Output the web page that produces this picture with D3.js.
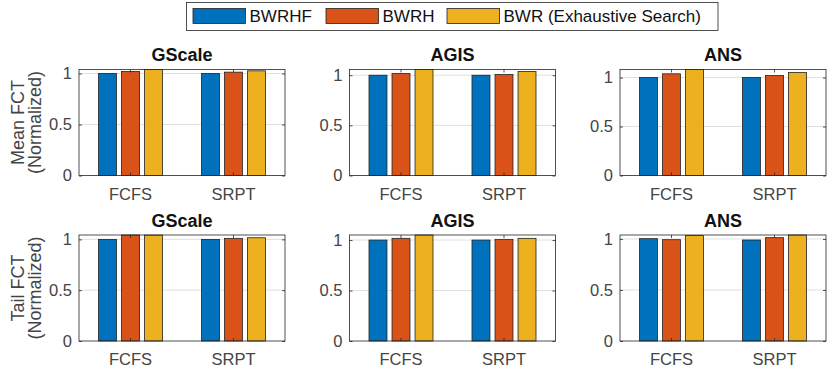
<!DOCTYPE html>
<html>
<head>
<meta charset="utf-8">
<script src="https://cdn.jsdelivr.net/npm/d3@7"></script>
<style>
  body { margin: 0; background: #fff; }
  svg { font-family: "Liberation Sans", Arial, Helvetica, sans-serif; }
</style>
</head>
<body>
<div id="chart"></div>
<script>
const categories = ["FCFS", "SRPT"];
const series = ["BWRHF", "BWRH", "BWR (Exhaustive Search)"];
const networks = ["GScale", "AGIS", "ANS"];
const metrics = ["Mean FCT", "Tail FCT"];
const yTicks = [0, 0.5, 1];
const colors = ["#0072BD", "#D95319", "#EDB120"];

// one row per category (FCFS, SRPT), one column per series
const meanGScale = [[1.000, 1.020, 1.039], [1.000, 1.013, 1.026]];
const meanAGIS   = [[1.000, 1.017, 1.057], [1.000, 1.007, 1.037]];
const meanANS    = [[1.000, 1.038, 1.082], [1.000, 1.020, 1.051]];
const tailGScale = [[1.000, 1.043, 1.042], [1.000, 1.010, 1.016]];
const tailAGIS   = [[1.000, 1.017, 1.050], [1.000, 1.007, 1.017]];
const tailANS    = [[1.003, 0.993, 1.033], [0.990, 1.013, 1.039]];

const panelValues = [
    [meanGScale, meanAGIS, meanANS],
    [tailGScale, tailAGIS, tailANS]
];

function drawChart(container) {
    const width = 830;
    const height = 369;
    const colLeft = [79, 349.5, 620];
    const rowTop = [69.5, 235];
    const panelW = 206;
    const panelH = 106;
    const ink = "#262626";
    const label = "#444";

    const svg = d3.select(container).append("svg")
        .attr("width", width)
        .attr("height", height)
        .style("background", "#fff");

    const x0 = d3.scaleBand().domain(categories).range([0, panelW]);
    const x1 = d3.scaleBand().domain(series).range([-32, 32]).paddingInner(0.22);

    metrics.forEach((metric, r) => {
        networks.forEach((net, c) => {
            const vals = panelValues[r][c];
            const y = d3.scaleLinear()
                .domain([0, d3.max(vals.flat())])
                .range([panelH, 0]);

            const g = svg.append("g")
                .attr("transform", `translate(${colLeft[c]},${rowTop[r]})`);

            g.append("rect")
                .attr("width", panelW)
                .attr("height", panelH)
                .attr("fill", "#fff");

            // grid
            g.append("g")
                .selectAll("line")
                .data(yTicks.filter(t => t > 0))
                .join("line")
                .attr("x1", 0)
                .attr("x2", panelW)
                .attr("y1", d => y(d))
                .attr("y2", d => y(d))
                .attr("stroke", "#e0e0e0")
                .attr("stroke-width", 1);

            const rows = categories.map((cat, i) => ({cat, vals: vals[i]}));

            g.append("g")
                .selectAll("g")
                .data(rows)
                .join("g")
                .attr("transform", d => `translate(${x0(d.cat) + x0.bandwidth() / 2},0)`)
                .selectAll("rect")
                .data(d => d.vals.map((v, k) => ({key: series[k], v, k})))
                .join("rect")
                .attr("x", d => x1(d.key))
                .attr("width", x1.bandwidth())
                .attr("y", d => y(d.v))
                .attr("height", d => y(0) - y(d.v))
                .attr("fill", d => colors[d.k])
                .attr("stroke", "#222")
                .attr("stroke-width", 0.8);

            // axes (ticks inward)
            const yl = g.append("g")
                .call(d3.axisLeft(y).tickValues(yTicks).tickSize(-3).tickPadding(7).tickFormat(d3.format("")));
            const yr = g.append("g")
                .attr("transform", `translate(${panelW},0)`)
                .call(d3.axisRight(y).tickValues(yTicks).tickSize(-3).tickFormat(""));
            const xb = g.append("g")
                .attr("transform", `translate(0,${panelH})`)
                .call(d3.axisBottom(x0).tickSize(-3).tickPadding(12.5));
            const xt = g.append("g")
                .call(d3.axisTop(x0).tickSize(-3).tickFormat(""));

            [yl, yr, xb, xt].forEach(a => {
                a.select(".domain").remove();
                a.selectAll("line").attr("stroke", ink).attr("stroke-width", 0.8);
                a.selectAll("text")
                    .attr("fill", label)
                    .style("font-size", "16.5px")
                    .style("font-family", "'Liberation Sans', Arial, sans-serif");
            });

            g.append("rect")
                .attr("width", panelW)
                .attr("height", panelH)
                .attr("fill", "none")
                .attr("stroke", ink)
                .attr("stroke-width", 0.8);

            g.append("text")
                .attr("x", panelW / 2)
                .attr("y", -8.5)
                .attr("text-anchor", "middle")
                .style("font-size", "18px")
                .style("font-weight", "bold")
                .attr("fill", "#111")
                .text(net);

            if (c === 0) {
                const cy = panelH / 2;
                [[metric, -55], ["(Normalized)", -38]].forEach(([t, dx]) => {
                    g.append("text")
                        .attr("transform", `translate(${dx},${cy}) rotate(-90)`)
                        .attr("text-anchor", "middle")
                        .style("font-size", "18px")
                        .attr("fill", label)
                        .text(t);
                });
            }
        });
    });

    // legend
    const legend = svg.append("g");
    legend.append("rect")
        .attr("x", 186.5)
        .attr("y", 2.5)
        .attr("width", 531.5)
        .attr("height", 28)
        .attr("fill", "#fff")
        .attr("stroke", ink)
        .attr("stroke-width", 0.8);

    const swatchX = [193, 326, 447];
    const item = legend.selectAll("g.item")
        .data(series)
        .join("g")
        .attr("class", "item")
        .attr("transform", (d, i) => `translate(${swatchX[i]},8.5)`);

    item.append("rect")
        .attr("width", 52.5)
        .attr("height", 15)
        .attr("fill", (d, i) => colors[i])
        .attr("stroke", "#222")
        .attr("stroke-width", 0.8);

    item.append("text")
        .attr("x", 56.5)
        .attr("y", 13.8)
        .style("font-size", "17px")
        .attr("fill", "#111")
        .text(d => d);
}

drawChart("#chart");
</script>
</body>
</html>
